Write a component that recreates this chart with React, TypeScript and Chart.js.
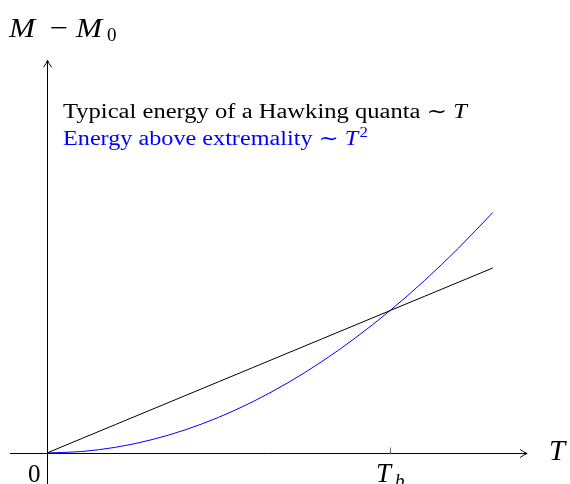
import React, { useEffect, useRef } from "react";
import { Chart, registerables } from "chart.js";

Chart.register(...registerables);

// Data (units: T_b = 1)
const tValues = [0, 0.1, 0.2, 0.3, 0.4, 0.5, 0.6, 0.7, 0.8, 0.9, 1.0, 1.1, 1.2, 1.3];
const hawkingValues = [0, 0.1, 0.2, 0.3, 0.4, 0.5, 0.6, 0.7, 0.8, 0.9, 1.0, 1.1, 1.2, 1.3];
const extremalityValues = [0, 0.01, 0.04, 0.09, 0.16, 0.25, 0.36, 0.49, 0.64, 0.81, 1.0, 1.21, 1.44, 1.69];
const tickValues = [0, 1];
const tickLabels = ["0", "T", "b"];
const legendLine1 = ["Typical energy of a Hawking quanta ∼ ", "T"];
const legendLine2 = ["Energy above extremality ∼ ", "T", "2"];

// View window
const X_MIN = -0.137;
const X_MAX = 1.525;
const Y_MIN = -0.218;
const Y_MAX = 3.183;
const X_AXIS_FROM = -0.108;
const X_AXIS_TO = 1.4;
const Y_AXIS_FROM = -0.22;
const Y_AXIS_TO = 2.76;

const SERIF = "'Liberation Serif', 'DejaVu Serif', serif";

function arrowHead(ctx: CanvasRenderingContext2D, x: number, y: number, dir: "right" | "up") {
  ctx.beginPath();
  if (dir === "right") {
    ctx.moveTo(x - 7, y - 4);
    ctx.quadraticCurveTo(x - 3, y - 1, x, y);
    ctx.quadraticCurveTo(x - 3, y + 1, x - 7, y + 4);
  } else {
    ctx.moveTo(x - 4, y + 7);
    ctx.quadraticCurveTo(x - 1, y + 3, x, y);
    ctx.quadraticCurveTo(x + 1, y + 3, x + 4, y + 7);
  }
  ctx.stroke();
}

type Seg = { text: string; font: string; dy?: number; gap?: number };

function drawRun(ctx: CanvasRenderingContext2D, segs: Seg[], x: number, y: number, targetW: number) {
  let total = 0;
  for (const s of segs) {
    ctx.font = s.font;
    total += ctx.measureText(s.text).width + (s.gap || 0);
  }
  const sx = targetW / total;
  ctx.save();
  ctx.translate(x, y);
  ctx.scale(sx, 1);
  let cx = 0;
  for (const s of segs) {
    ctx.font = s.font;
    cx += s.gap || 0;
    ctx.fillText(s.text, cx, s.dy || 0);
    cx += ctx.measureText(s.text).width;
  }
  ctx.restore();
}

function stretchedText(ctx: CanvasRenderingContext2D, text: string, font: string, x: number, y: number, sx: number) {
  ctx.save();
  ctx.font = font;
  ctx.translate(x, y);
  ctx.scale(sx, 1);
  ctx.fillText(text, 0, 0);
  ctx.restore();
}

const axesPlugin = {
  id: "texAxes",
  beforeDatasetsDraw(chart: any) {
    const ctx: CanvasRenderingContext2D = chart.ctx;
    const xs = chart.scales.x;
    const ys = chart.scales.y;
    const y0 = Math.round(ys.getPixelForValue(0)) + 0.5;
    const x0 = Math.round(xs.getPixelForValue(0)) + 0.5;
    ctx.save();
    ctx.strokeStyle = "#000";
    ctx.lineWidth = 1;
    const xa = xs.getPixelForValue(X_AXIS_FROM);
    const xb = xs.getPixelForValue(X_AXIS_TO);
    ctx.beginPath();
    ctx.moveTo(xa, y0);
    ctx.lineTo(xb, y0);
    ctx.stroke();
    arrowHead(ctx, xb, y0, "right");
    const ya = ys.getPixelForValue(Y_AXIS_FROM);
    const yb = ys.getPixelForValue(Y_AXIS_TO);
    ctx.beginPath();
    ctx.moveTo(x0, ya);
    ctx.lineTo(x0, yb);
    ctx.stroke();
    arrowHead(ctx, x0, yb, "up");
    const xt = Math.round(xs.getPixelForValue(tickValues[1])) + 0.5;
    ctx.strokeStyle = "#666";
    ctx.beginPath();
    ctx.moveTo(xt, y0 - 6);
    ctx.lineTo(xt, y0 + 1);
    ctx.stroke();
    ctx.restore();
  },
  afterDraw(chart: any) {
    const ctx: CanvasRenderingContext2D = chart.ctx;
    const xs = chart.scales.x;
    const ys = chart.scales.y;
    const y0 = ys.getPixelForValue(0);
    ctx.save();
    ctx.fillStyle = "#000";
    ctx.textBaseline = "alphabetic";
    ctx.textAlign = "left";
    // tick labels
    ctx.font = `25px ${SERIF}`;
    ctx.fillText(tickLabels[0], xs.getPixelForValue(tickValues[0]) - 19, y0 + 29);
    const xt = xs.getPixelForValue(tickValues[1]);
    ctx.font = `italic 27px ${SERIF}`;
    ctx.fillText(tickLabels[1], xt - 14, y0 + 29);
    ctx.font = `italic 19px ${SERIF}`;
    ctx.fillText(tickLabels[2], xt + 5, y0 + 34);
    // axis titles
    ctx.font = `italic 29px ${SERIF}`;
    ctx.fillText("T", 549, y0 + 7);
    stretchedText(ctx, "M", `italic 28px ${SERIF}`, 9, 37, 1.12);
    stretchedText(ctx, "−", `28px ${SERIF}`, 50, 37, 1.15);
    stretchedText(ctx, "M", `italic 28px ${SERIF}`, 76, 37, 1.12);
    ctx.font = `19px ${SERIF}`;
    ctx.fillText("0", 107, 41);
    // legend text
    const fs = 20;
    drawRun(
      ctx,
      [
        { text: legendLine1[0], font: `${fs}px ${SERIF}` },
        { text: legendLine1[1], font: `italic ${fs}px ${SERIF}` },
      ],
      63,
      118,
      404
    );
    ctx.fillStyle = "#0000ff";
    drawRun(
      ctx,
      [
        { text: legendLine2[0], font: `${fs}px ${SERIF}` },
        { text: legendLine2[1], font: `italic ${fs}px ${SERIF}` },
        { text: legendLine2[2], font: `14px ${SERIF}`, dy: -8, gap: 1 },
      ],
      63,
      145,
      305
    );
    ctx.restore();
  },
};

export default function App() {
  const ref = useRef<HTMLCanvasElement>(null);
  useEffect(() => {
    if (!ref.current) return;
    const chart = new Chart(ref.current, {
      type: "scatter",
      data: {
        datasets: [
          {
            label: legendLine1.join(""),
            data: tValues.map((t, i) => ({ x: t, y: hawkingValues[i] })),
            showLine: true,
            borderColor: "#000000",
            borderWidth: 1,
            pointRadius: 0,
          },
          {
            label: legendLine2.join(""),
            data: tValues.map((t, i) => ({ x: t, y: extremalityValues[i] })),
            showLine: true,
            borderColor: "#0000ff",
            borderWidth: 1,
            pointRadius: 0,
            cubicInterpolationMode: "monotone",
          },
        ],
      },
      options: {
        animation: false,
        responsive: false,
        maintainAspectRatio: false,
        layout: { padding: 0 },
        plugins: { legend: { display: false }, tooltip: { enabled: false } },
        scales: {
          x: { type: "linear", min: X_MIN, max: X_MAX, display: false },
          y: { type: "linear", min: Y_MIN, max: Y_MAX, display: false },
        },
      },
      plugins: [axesPlugin],
    });
    return () => chart.destroy();
  }, []);
  return (
    <canvas
      ref={ref}
      width={570}
      height={484}
      style={{ position: "absolute", left: 0, top: 0, display: "block" }}
    />
  );
}
